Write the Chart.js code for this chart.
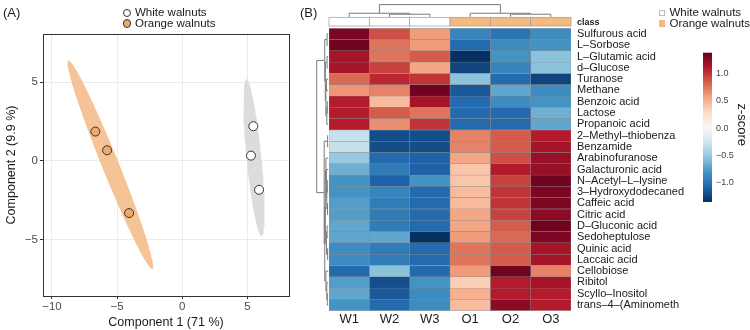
<!DOCTYPE html>
<html><head><meta charset="utf-8">
<script src="https://cdn.jsdelivr.net/npm/chart.js@4/dist/chart.umd.min.js"></script>
<style>
body{margin:0;background:#fff;font-family:"Liberation Sans",Arial,sans-serif;}
#wrap{position:relative;width:750px;height:330px;overflow:hidden;}
canvas{position:absolute;top:0;}
.t{position:absolute;white-space:nowrap;color:#1a1a1a;}
.sw{position:absolute;box-sizing:border-box;}
</style></head>
<body><div id="wrap">
<canvas id="ca" width="300" height="330" style="left:0"></canvas>
<canvas id="cb" width="450" height="330" style="left:300px"></canvas>
</div>
<script>
// ---------- Panel A data (PCA scores) ----------
const groups = ['White walnuts', 'Orange walnuts'];
const whiteX = [5.46, 5.28, 5.90];
const whiteY = [2.21, 0.34, -1.83];
const orangeX = [-6.67, -5.77, -4.08];
const orangeY = [1.87, 0.68, -3.31];
// confidence ellipses: centre, semi-major vector, semi-minor vector (data units)
const whiteEllipse = [5.51, 0.21, 0.59, -4.99, 0.566, 0.046];
const orangeEllipse = [-5.52, -0.24, 3.235, -6.63, 0.60, 0.199];
const xTicksA = [-10, -5, 0, 5];
const yTicksA = [-5, 0, 5];

// ---------- Panel B data (heatmap z-scores) ----------
const samples = ['W1', 'W2', 'W3', 'O1', 'O2', 'O3'];
const sampleClass = ['White walnuts', 'White walnuts', 'White walnuts', 'Orange walnuts', 'Orange walnuts', 'Orange walnuts'];
const metabolites = ['Sulfurous acid', 'L–Sorbose', 'L–Glutamic acid', 'd–Glucose', 'Turanose', 'Methane',
  'Benzoic acid', 'Lactose', 'Propanoic acid', '2–Methyl–thiobenza', 'Benzamide', 'Arabinofuranose',
  'Galacturonic acid', 'N–Acetyl–L–lysine', '3–Hydroxydodecaned', 'Caffeic acid', 'Citric acid',
  'D–Gluconic acid', 'Sedoheptulose', 'Quinic acid', 'Laccaic acid', 'Cellobiose', 'Ribitol',
  'Scyllo–Inositol', 'trans–4–(Aminometh'];
const zW1 = [1.30, 1.35, 1.15, 1.15, 0.80, 0.62, 1.10, 1.10, 1.10, -0.30, -0.30, -0.50, -0.65, -0.80, -0.80, -0.75, -0.75, -0.70, -0.70, -0.85, -0.85, -1.05, -0.75, -0.70, -0.80];
const zW2 = [0.90, 0.75, 0.75, 0.95, 1.05, 0.70, 0.45, 0.85, 0.65, -1.20, -1.20, -1.05, -0.95, -1.10, -0.90, -0.95, -0.95, -0.95, -0.70, -0.95, -0.95, -0.55, -1.20, -1.15, -1.05];
const zW3 = [0.60, 0.60, 0.85, 0.55, 1.00, 1.35, 1.15, 0.75, 1.00, -1.20, -1.20, -1.10, -1.10, -0.80, -1.05, -1.05, -1.05, -1.05, -1.35, -1.05, -1.05, -1.05, -0.80, -0.85, -0.85];
const zO1 = [-0.90, -1.05, -1.35, -1.25, -0.55, -1.15, -1.05, -1.05, -1.05, 0.70, 0.70, 0.55, 0.40, 0.40, 0.45, 0.45, 0.55, 0.55, 0.60, 0.75, 0.75, 0.60, 0.35, 0.50, 0.45];
const zO2 = [-1.00, -0.85, -0.80, -0.90, -1.05, -0.70, -0.85, -1.05, -1.05, 0.85, 0.85, 0.90, 1.10, 0.95, 1.00, 1.00, 0.95, 0.85, 0.80, 0.85, 0.85, 1.35, 1.10, 1.10, 1.25];
const zO3 = [-0.85, -0.80, -0.55, -0.55, -1.25, -0.85, -0.80, -0.65, -0.70, 1.10, 1.15, 1.20, 1.20, 1.35, 1.30, 1.30, 1.25, 1.35, 1.30, 1.15, 1.15, 0.70, 1.15, 1.10, 1.10];
const zCols = [zW1, zW2, zW3, zO1, zO2, zO3];
const zTicks = [1.0, 0.5, 0.0, -0.5, -1.0];
const zMin = -1.35, zMax = 1.38;
// column dendrogram (hclust style merges; negative = leaf)
const colMerge = [[-2, -3], [-5, -6], [-1, 1], [-4, 2], [3, 4]];
const colHeight = [0.21, 0.21, 0.29, 0.29, 1.0];
// row dendrogram
const rowMerge = [[-1, -2], [-3, -4], [-5, -6], [-7, -8], [4, -9], [3, 5], [2, 6], [1, 7],
  [-10, -11], [-14, -15], [-16, -17], [10, 11], [-13, 12], [-12, 13], [-18, -19], [-20, -21], [15, 16],
  [14, 17], [-24, -25], [-23, 19], [-22, 20], [18, 21], [9, 22], [8, 23]];
const rowHeight = [0.10, 0.10, 0.15, 0.08, 0.12, 0.20, 0.25, 0.30,
  0.05, 0.08, 0.06, 0.12, 0.16, 0.20, 0.10, 0.05, 0.15, 0.25, 0.08, 0.12, 0.20, 0.30, 0.35, 1.0];

// ---------- helpers ----------
const FONT = '"Liberation Sans", Arial, sans-serif';
const classColor = {'White walnuts': '#ffffff', 'Orange walnuts': '#F4BA80'};
const rdbu = ['#053061', '#2166AC', '#4393C3', '#92C5DE', '#D1E5F0', '#F7F7F7', '#FDDBC7', '#F4A582', '#D6604D', '#B2182B', '#67001F'];
function hex2rgb(h) { return [1, 3, 5].map(i => parseInt(h.substr(i, 2), 16)); }
function zColor(v) {
  let f = (v - zMin) / (zMax - zMin);
  f = Math.max(0, Math.min(1, f)) * (rdbu.length - 1);
  const i = Math.min(Math.floor(f), rdbu.length - 2), r = f - i;
  const a = hex2rgb(rdbu[i]), b = hex2rgb(rdbu[i + 1]);
  return 'rgb(' + a.map((c, k) => Math.round(c + (b[k] - c) * r)).join(',') + ')';
}
function ellipse(p) {
  const pts = [];
  for (let k = 0; k <= 120; k++) {
    const t = k / 120 * 2 * Math.PI;
    pts.push({x: p[0] + p[2] * Math.cos(t) + p[4] * Math.sin(t), y: p[1] + p[3] * Math.cos(t) + p[5] * Math.sin(t)});
  }
  return pts;
}
const fmtMinus = v => (v < 0 ? '\u2212' + Math.abs(v) : String(v));

// ---------- Chart A ----------
const frameA = {
  id: 'frameA',
  afterDraw(chart) {
    const {ctx, chartArea: a} = chart;
    ctx.save(); ctx.strokeStyle = '#333'; ctx.lineWidth = 1;
    ctx.strokeRect(Math.round(a.left) + 0.5, Math.round(a.top) + 0.5, Math.round(a.right - a.left), Math.round(a.bottom - a.top));
    ctx.restore();
  }
};
new Chart(document.getElementById('ca'), {
  type: 'scatter',
  data: {datasets: [
    {label: groups[0], data: whiteX.map((x, i) => ({x, y: whiteY[i]})), backgroundColor: '#ffffff', borderColor: '#333', borderWidth: 1, pointRadius: 4.5, order: 0},
    {label: groups[1], data: orangeX.map((x, i) => ({x, y: orangeY[i]})), backgroundColor: '#EDAA6C', borderColor: '#333', borderWidth: 1, pointRadius: 4.5, order: 0},
    {label: 'ellipse1', data: ellipse(whiteEllipse), showLine: true, fill: 'shape', backgroundColor: '#DCDCDC', borderWidth: 0, pointRadius: 0, tension: 0, order: 2},
    {label: 'ellipse2', data: ellipse(orangeEllipse), showLine: true, fill: 'shape', backgroundColor: '#F6C397', borderWidth: 0, pointRadius: 0, tension: 0, order: 2}
  ]},
  options: {
    responsive: false, animation: false, events: [],
    layout: {padding: {top: 34, right: 11, left: 0, bottom: 0}},
    plugins: {legend: {display: false}, tooltip: {enabled: false}},
    scales: {
      x: {type: 'linear', min: -10.69, max: 8.2,
        afterBuildTicks: s => { s.ticks = xTicksA.map(v => ({value: v})); },
        afterFit: s => { s.height = 34; },
        ticks: {callback: v => fmtMinus(v), color: '#4d4d4d', font: {family: FONT, size: 11.5}, padding: 1, maxRotation: 0},
        grid: {color: '#EBEBEB', lineWidth: 1, tickColor: '#333', tickLength: 3},
        border: {display: false},
        title: {display: true, text: 'Component 1 (71 %)', color: '#1a1a1a', font: {family: FONT, size: 12.5}, padding: {top: 0, bottom: 0}}
      },
      y: {type: 'linear', min: -8.58, max: 8.07,
        afterBuildTicks: s => { s.ticks = yTicksA.map(v => ({value: v})); },
        afterFit: s => { s.width = 43; },
        ticks: {callback: v => fmtMinus(v), color: '#4d4d4d', font: {family: FONT, size: 11.5}, padding: 2},
        grid: {color: '#EBEBEB', lineWidth: 1, tickColor: '#333', tickLength: 3},
        border: {display: false},
        title: {display: true, text: 'Component 2 (9.9 %)', color: '#1a1a1a', font: {family: FONT, size: 12.5}, padding: {top: 4, bottom: 0}}
      }
    }
  },
  plugins: [frameA]
});

// ---------- Chart B ----------
function drawTree(ctx, merge, height, leafPos, hPix, vertical) {
  const pos = [], hh = [];
  const P = c => c < 0 ? leafPos(-c - 1) : pos[c - 1];
  const H = c => c < 0 ? 0 : hh[c - 1];
  ctx.beginPath();
  merge.forEach((m, k) => {
    const pa = P(m[0]), pb = P(m[1]), ha = hPix(H(m[0])), hb = hPix(H(m[1])), hk = hPix(height[k]);
    if (vertical) {
      ctx.moveTo(pa, ha); ctx.lineTo(pa, hk); ctx.lineTo(pb, hk); ctx.lineTo(pb, hb);
    } else {
      ctx.moveTo(ha, pa); ctx.lineTo(hk, pa); ctx.lineTo(hk, pb); ctx.lineTo(hb, pb);
    }
    pos[k] = (pa + pb) / 2; hh[k] = height[k];
  });
  ctx.stroke();
}
const extrasB = {
  id: 'extrasB',
  afterDraw(chart) {
    const {ctx, chartArea: a, scales: {x, y}} = chart;
    ctx.save();
    // class annotation bar
    const cbTop = 17.3, cbH = 8.7;
    samples.forEach((s, i) => {
      const l = x.getPixelForValue(i), r = x.getPixelForValue(i + 1);
      ctx.fillStyle = classColor[sampleClass[i]];
      ctx.fillRect(l, cbTop, r - l, cbH);
      ctx.strokeStyle = '#9a9a9a'; ctx.lineWidth = 0.7;
      ctx.strokeRect(l, cbTop, r - l, cbH);
    });
    // dendrograms
    ctx.strokeStyle = '#7a7a7a'; ctx.lineWidth = 1;
    drawTree(ctx, colMerge, colHeight, i => x.getPixelForValue(i + 0.5), h => 16.8 - h * 12.2, true);
    drawTree(ctx, rowMerge, rowHeight, i => y.getPixelForValue(i), h => a.left - 0.8 - h * 11.5, false);
    // colour bar
    const bx = 403, bw = 9, bt = 52.7, bb = 202;
    const g = ctx.createLinearGradient(0, bt, 0, bb);
    for (let k = 0; k <= 40; k++) g.addColorStop(k / 40, zColor(zMax - k / 40 * (zMax - zMin)));
    ctx.fillStyle = g; ctx.fillRect(bx, bt, bw, bb - bt);
    ctx.restore();
  }
};
new Chart(document.getElementById('cb'), {
  type: 'bar',
  data: {
    labels: metabolites,
    datasets: samples.map((s, j) => ({
      label: s,
      data: metabolites.map(() => [j, j + 1]),
      backgroundColor: zCols[j].map(zColor),
      borderColor: '#8d8d8d', borderWidth: 0.5, borderSkipped: false,
      grouped: false, barPercentage: 1, categoryPercentage: 1
    }))
  },
  options: {
    indexAxis: 'y', responsive: false, animation: false, events: [],
    layout: {padding: {left: 29, top: 28.3, right: 0, bottom: 0}},
    plugins: {legend: {display: false}, tooltip: {enabled: false}},
    scales: {
      x: {type: 'linear', min: 0, max: 6,
        afterBuildTicks: s => { s.ticks = samples.map((_, i) => ({value: i + 0.5})); },
        afterFit: s => { s.height = 19.3; },
        ticks: {callback: (v, i) => samples[i], color: '#1a1a1a', font: {family: FONT, size: 13}, padding: 1, maxRotation: 0, autoSkip: false},
        grid: {display: false, drawTicks: false}, border: {display: false}
      },
      y: {type: 'category', position: 'right',
        afterFit: s => { s.width = 179; },
        ticks: {color: '#1a1a1a', font: {family: FONT, size: 11}, padding: 6, autoSkip: false},
        grid: {display: false, drawTicks: false}, border: {display: false}
      }
    }
  },
  plugins: [extrasB]
});

// ---------- free text (panel letters, legends, colour-bar labels) ----------
const wrap = document.getElementById('wrap');
function T(txt, x, y, size, extra) {
  const d = document.createElement('div');
  d.className = 't'; d.textContent = txt;
  d.style.left = x + 'px'; d.style.top = (y - size * 0.6) + 'px';
  d.style.fontSize = size + 'px'; d.style.lineHeight = (size * 1.2) + 'px';
  if (extra) Object.assign(d.style, extra);
  wrap.appendChild(d); return d;
}
function S(x, y, w, h, bg, border, radius) {
  const d = document.createElement('div');
  d.className = 'sw';
  Object.assign(d.style, {left: x + 'px', top: y + 'px', width: w + 'px', height: h + 'px', background: bg, border: border, borderRadius: radius || '0'});
  wrap.appendChild(d);
}
T('(A)', 3, 12.7, 13);
T('(B)', 300, 12.7, 13);
// legend A
S(122.5, 8.5, 8.5, 8.5, '#ffffff', '1px solid #333', '50%');
S(122.5, 19.2, 8.5, 8.5, '#EDAA6C', '1px solid #333', '50%');
T(groups[0], 135, 12.7, 11.5);
T(groups[1], 135, 23.4, 11.5);
// legend B
S(658.5, 9.5, 6.5, 6.5, '#ffffff', '1px solid #bbb');
S(658.5, 20.2, 6.5, 6.5, classColor['Orange walnuts'], 'none');
T(groups[0], 669.5, 12.7, 11.5);
T(groups[1], 669.5, 23.4, 11.5);
T('class', 577, 22, 9, {fontWeight: 'bold'});
// colour-bar labels
zTicks.forEach(v => {
  const yy = 52.7 + (zMax - v) / (zMax - zMin) * (202 - 52.7);
  T(v === 0 ? '0.0' : (v < 0 ? '\u2212' : '') + Math.abs(v).toFixed(1), 716, yy, 9, {color: '#444'});
});
const zs = T('z-score', 741.7, 124.7, 13);
zs.style.transform = 'translate(-50%, 0) rotate(90deg)';
zs.style.transformOrigin = '50% 50%';
</script>
</body></html>
